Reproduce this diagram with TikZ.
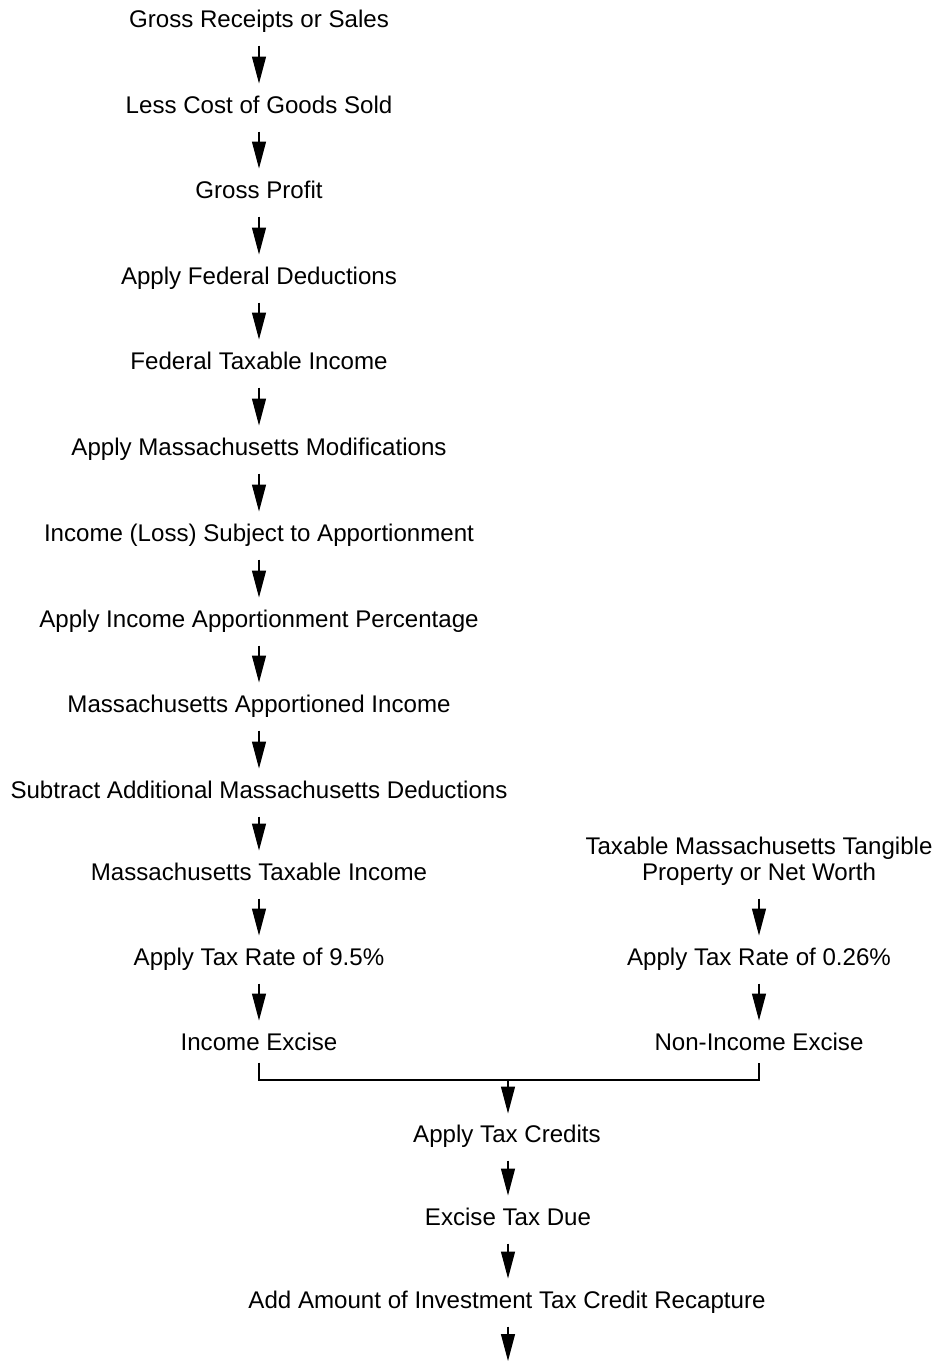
\documentclass[tikz,border=0pt]{standalone}
\usepackage{fontspec}
\setmainfont{Liberation Sans}
\usetikzlibrary{arrows.meta}
\begin{document}
\begin{tikzpicture}[x=1pt,y=-1pt,
  lbl/.style={font=\fontsize{24.1}{26.5}\selectfont, inner sep=0pt, outer sep=0pt, text height=17pt, text depth=0pt, anchor=south, align=center},
  flow/.style={line width=1.3pt, -{Triangle[length=27pt,width=14pt]}, shorten <=18pt, shorten >=13pt},
  brk/.style={line width=1.3pt}]
\useasboundingbox (0,0) rectangle (940,1361);
% left column (y = baseline)
\node[lbl] (n1) at (259,27.5) {Gross Receipts or Sales};
\node[lbl] (n2) at (259,113.5) {Less Cost of Goods Sold};
\node[lbl] (n3) at (259,198.5) {Gross Profit};
\node[lbl] (n4) at (259,284.5) {Apply Federal Deductions};
\node[lbl] (n5) at (259,369.5) {Federal Taxable Income};
\node[lbl] (n6) at (259,455.5) {Apply Massachusetts Modifications};
\node[lbl] (n7) at (259,541.5) {Income (Loss) Subject to Apportionment};
\node[lbl] (n8) at (259,627.5) {Apply Income Apportionment Percentage};
\node[lbl] (n9) at (259,712.5) {Massachusetts Apportioned Income};
\node[lbl] (n10) at (259,798.5) {Subtract Additional Massachusetts Deductions};
\node[lbl] (n11) at (259,880.5) {Massachusetts Taxable Income};
\node[lbl] (n12) at (259,965.5) {Apply Tax Rate of 9.5\%};
\node[lbl] (n13) at (259,1050.5) {Income Excise};
% right column
\node[lbl] (r1) at (759,880.5) {Taxable Massachusetts Tangible\\Property or Net Worth};
\node[lbl] (r2) at (759,965.5) {Apply Tax Rate of 0.26\%};
\node[lbl] (r3) at (759,1050.5) {Non-Income Excise};
% center column
\node[lbl] (c1) at (507,1142.5) {Apply Tax Credits};
\node[lbl] (c2) at (508,1225.5) {Excise Tax Due};
\node[lbl] (c3) at (507,1308.5) {Add Amount of Investment Tax Credit Recapture};
\coordinate (end) at (508,1361);
\coordinate (join) at (508,1080);
% arrows
\foreach \a/\b in {n1/n2,n2/n3,n3/n4,n4/n5,n5/n6,n6/n7,n7/n8,n8/n9,n9/n10,n10/n11,n11/n12,n12/n13,r1/r2,r2/r3}
  \draw[flow] (\a.south) -- (\b.north);
\draw[flow] (c1.south -| join) -- (c2.north -| join);
\draw[flow] (c2.south -| join) -- (c3.north -| join);
\draw[flow, shorten >=0pt] (c3.south -| end) -- (end);
% bracket
\draw[brk] ([yshift=-12pt]n13.south) |- (join) -| ([yshift=-12pt]r3.south);
\draw[flow, shorten <=0pt, shorten >=12pt] (join) -- (c1.north -| join);
\end{tikzpicture}
\end{document}
